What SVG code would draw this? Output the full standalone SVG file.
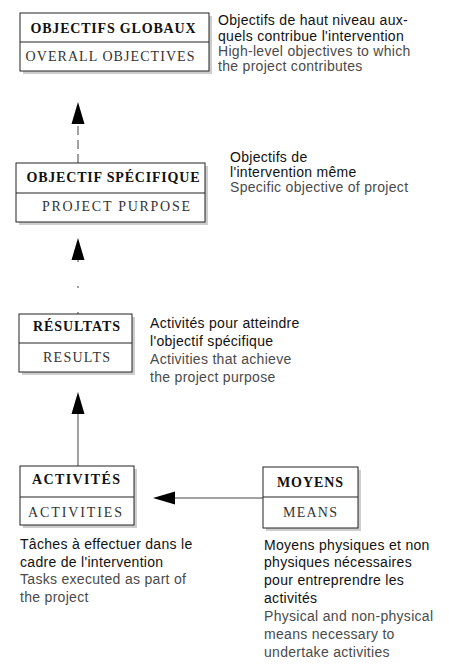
<svg xmlns="http://www.w3.org/2000/svg" width="449" height="670" viewBox="0 0 449 670">
<style>
.box{fill:#fff;stroke:#222;stroke-width:1}
.div{stroke:#222;stroke-width:1}
.sh{fill:#cdcdcd}
.fr{font-family:"Liberation Serif",serif;font-size:14px;font-weight:bold;fill:#111;text-anchor:middle}
.en{font-family:"Liberation Serif",serif;font-size:14px;fill:#333;text-anchor:middle}
.d1{font-family:"Liberation Sans",Arial,sans-serif;font-size:14px;letter-spacing:0.3px;fill:#111}
.d2{font-family:"Liberation Sans",Arial,sans-serif;font-size:14px;letter-spacing:0.3px;fill:#4a4a4a}
.ln{stroke:#444;stroke-width:1;fill:none}
</style>
<defs>
<marker id="ah" markerWidth="22" markerHeight="14" refX="16" refY="7" orient="auto" markerUnits="userSpaceOnUse">
<path d="M0,0.5 L22,7 L0,13.5 z" fill="#000"/>
</marker>
</defs>

<g id="connectors">
<line class="ln" x1="78" y1="163" x2="78" y2="108" stroke-dasharray="9 5" marker-end="url(#ah)"/>
<line class="ln" x1="78" y1="314" x2="78" y2="244" stroke="#999" stroke-dasharray="2 24" marker-end="url(#ah)"/>
<line class="ln" x1="78" y1="466" x2="78" y2="398" marker-end="url(#ah)"/>
<line class="ln" x1="263" y1="498" x2="159" y2="498" marker-end="url(#ah)"/>
</g>

<g id="overall">
<rect class="sh" x="23" y="16" width="189" height="58"/>
<rect class="box" x="20" y="13" width="189" height="58"/>
<line class="div" x1="20" y1="42" x2="209" y2="42"/>
<text class="fr" x="113" y="33" textLength="165" lengthAdjust="spacing">OBJECTIFS GLOBAUX</text>
<text class="en" x="110" y="61" textLength="169" lengthAdjust="spacing">OVERALL OBJECTIVES</text>
<text class="d1" x="218" y="25">Objectifs de haut niveau aux-</text>
<text class="d1" x="218" y="41">quels contribue l'intervention</text>
<text class="d2" x="218" y="56">High-level objectives to which</text>
<text class="d2" x="218" y="71">the project contributes</text>
</g>

<g id="purpose">
<rect class="sh" x="19" y="166" width="189" height="59"/>
<rect class="box" x="16" y="163" width="189" height="59"/>
<line class="div" x1="16" y1="193" x2="205" y2="193"/>
<text class="fr" x="113" y="182" textLength="173" lengthAdjust="spacing">OBJECTIF SPÉCIFIQUE</text>
<text class="en" x="116" y="211" textLength="148" lengthAdjust="spacing">PROJECT PURPOSE</text>
<text class="d1" x="230" y="162">Objectifs de</text>
<text class="d1" x="230" y="177">l'intervention même</text>
<text class="d2" x="230" y="192">Specific objective of project</text>
</g>

<g id="results">
<rect class="sh" x="22" y="317" width="113" height="58"/>
<rect class="box" x="19" y="314" width="113" height="58"/>
<line class="div" x1="19" y1="343" x2="132" y2="343"/>
<text class="fr" x="76.5" y="331" textLength="87" lengthAdjust="spacing">RÉSULTATS</text>
<text class="en" x="76.5" y="362" textLength="67" lengthAdjust="spacing">RESULTS</text>
<text class="d1" x="150" y="328">Activités pour atteindre</text>
<text class="d1" x="150" y="346">l'objectif spécifique</text>
<text class="d2" x="150" y="364">Activities that achieve</text>
<text class="d2" x="150" y="382">the project purpose</text>
</g>

<g id="activities">
<rect class="sh" x="23" y="469" width="114" height="59"/>
<rect class="box" x="20" y="466" width="114" height="59"/>
<line class="div" x1="20" y1="497" x2="134" y2="497"/>
<text class="fr" x="76" y="484" textLength="88" lengthAdjust="spacing">ACTIVITÉS</text>
<text class="en" x="75" y="517" textLength="94" lengthAdjust="spacing">ACTIVITIES</text>
<text class="d1" x="20" y="549">Tâches à effectuer dans le</text>
<text class="d1" x="20" y="567">cadre de l'intervention</text>
<text class="d2" x="20" y="584">Tasks executed as part of</text>
<text class="d2" x="20" y="602">the project</text>
</g>

<g id="means">
<rect class="sh" x="266" y="470" width="95" height="61"/>
<rect class="box" x="263" y="467" width="95" height="61"/>
<line class="div" x1="263" y1="497" x2="358" y2="497"/>
<text class="fr" x="310" y="487" textLength="66" lengthAdjust="spacing">MOYENS</text>
<text class="en" x="310" y="517" textLength="54" lengthAdjust="spacing">MEANS</text>
<text class="d1" x="264" y="550">Moyens physiques et non</text>
<text class="d1" x="264" y="567">physiques nécessaires</text>
<text class="d1" x="264" y="585">pour entreprendre les</text>
<text class="d1" x="264" y="603">activités</text>
<text class="d2" x="264" y="621">Physical and non-physical</text>
<text class="d2" x="264" y="639">means necessary to</text>
<text class="d2" x="264" y="657">undertake activities</text>
</g>
</svg>
